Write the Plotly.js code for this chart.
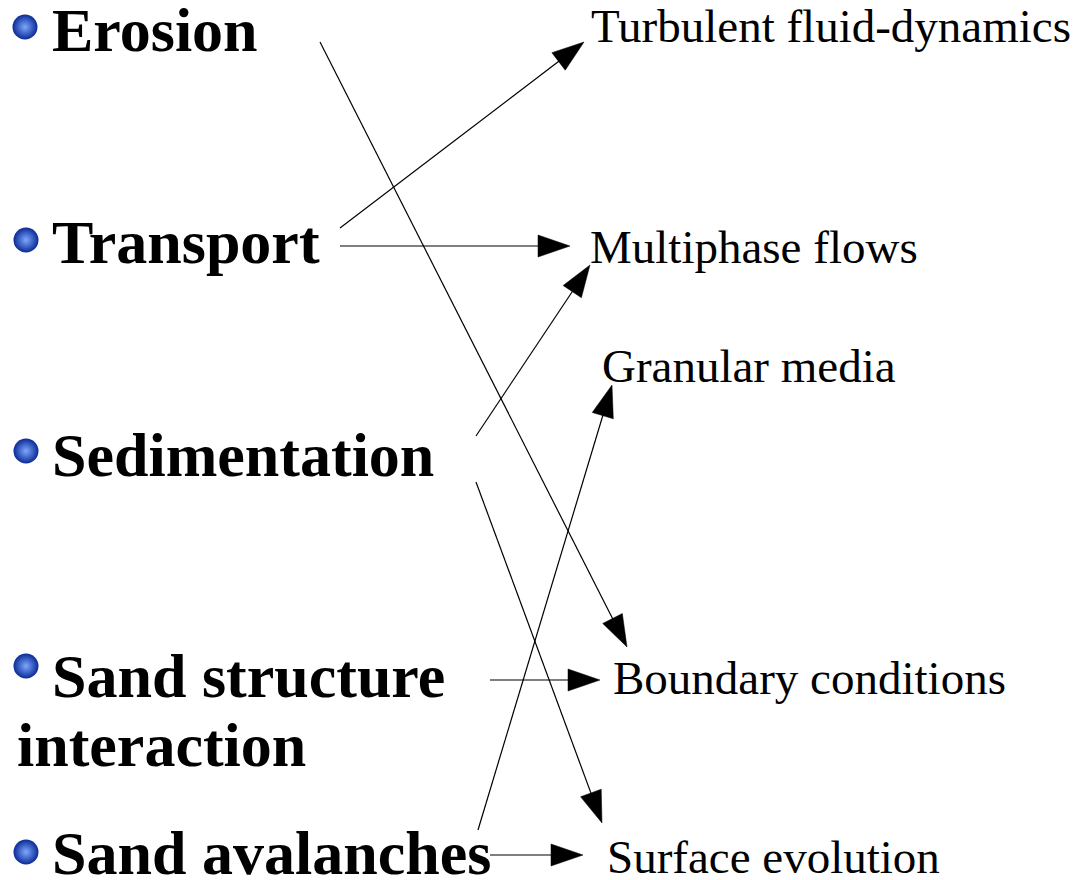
<!DOCTYPE html>
<html>
<head>
<meta charset="utf-8">
<script src="https://cdn.plot.ly/plotly-3.0.1.min.js"></script>
<style>html,body{margin:0;padding:0;background:#fff;}#chart{width:1082px;height:880px;}</style>
</head>
<body>
<div id="chart"></div>
<script>
// Left-hand topics (bold, with bullets)
const topicLabels = ["Erosion", "Transport", "Sedimentation", "Sand structure", "interaction", "Sand avalanches"];
const topicX      = [50, 50, 50, 50, 15, 50];
const topicY      = [30, 242, 455, 676, 745, 853];
const bulletX     = [25, 26, 26, 26, 26];
const bulletY     = [27, 240, 451, 666, 852];

// Right-hand concepts (regular)
const conceptLabels = ["Turbulent fluid-dynamics", "Multiphase flows", "Granular media", "Boundary conditions", "Surface evolution"];
const conceptX      = [589, 588, 600, 611, 605];
const conceptY      = [26, 247, 366, 678, 857];

// Arrows: start point -> tip point
const arrowFromX = [320, 340, 340, 476, 476, 490, 478, 490];
const arrowFromY = [42, 228, 246, 436, 482, 680, 830, 855];
const arrowToX   = [627, 584, 570, 590, 602, 600, 612, 583];
const arrowToY   = [647, 42, 246, 265, 823, 680, 385, 855];

const headLen = 32, headHalf = 11;

const traces = [];
const lx = [], ly = [];
const hx = [], hy = [];
for (let i = 0; i < arrowFromX.length; i++) {
  const x0 = arrowFromX[i], y0 = arrowFromY[i], x1 = arrowToX[i], y1 = arrowToY[i];
  const dx = x1 - x0, dy = y1 - y0, L = Math.hypot(dx, dy);
  const ux = dx / L, uy = dy / L, px = -uy, py = ux;
  const bx = x1 - ux * headLen, by = y1 - uy * headLen;
  lx.push(x0, bx + ux * 2, null); ly.push(y0, by + uy * 2, null);
  hx.push(x1, bx + px * headHalf, bx - px * headHalf, x1, null);
  hy.push(y1, by + py * headHalf, by - py * headHalf, y1, null);
}
traces.push({x: lx, y: ly, mode: 'lines', line: {color: '#000', width: 1.2}, hoverinfo: 'skip', showlegend: false});
traces.push({x: hx, y: hy, mode: 'lines', fill: 'toself', fillcolor: '#000', line: {color: '#000', width: 0.5}, hoverinfo: 'skip', showlegend: false});
// bullets
traces.push({x: bulletX, y: bulletY, mode: 'markers', hoverinfo: 'skip', showlegend: false,
  marker: {size: 25, color: '#0a2a96', line: {width: 0}, gradient: {type: 'radial', color: '#7fa8ff'}}});

const annotations = [];
topicLabels.forEach((t, i) => annotations.push({
  x: topicX[i], y: topicY[i], xref: 'x', yref: 'y', text: '<b>' + t + '</b>', showarrow: false,
  xanchor: 'left', yanchor: 'middle', font: {family: 'Liberation Serif', size: 62, color: '#000'}
}));
conceptLabels.forEach((t, i) => annotations.push({
  x: conceptX[i], y: conceptY[i], xref: 'x', yref: 'y', text: t, showarrow: false,
  xanchor: 'left', yanchor: 'middle', font: {family: 'Liberation Serif', size: 47, color: '#000'}
}));

const layout = {
  width: 1082, height: 880,
  margin: {l: 0, r: 0, t: 0, b: 0, pad: 0},
  paper_bgcolor: '#fff', plot_bgcolor: '#fff',
  xaxis: {range: [0, 1082], visible: false, fixedrange: true},
  yaxis: {range: [880, 0], visible: false, fixedrange: true},
  annotations: annotations,
  showlegend: false
};
Plotly.newPlot('chart', traces, layout, {staticPlot: true, displayModeBar: false});
</script>
</body>
</html>
